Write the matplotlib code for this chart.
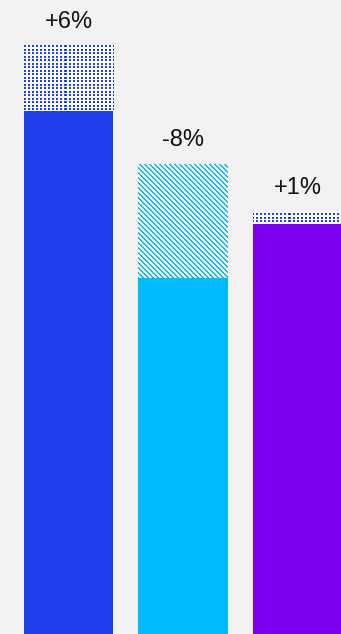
import numpy as np
import matplotlib.pyplot as plt
from matplotlib.colors import to_rgba

# valores (altura em unidades do eixo)
atual = [523, 356, 410]
projetado = [589, 470, 422]
variacao = ['+6%', '-8%', '+1%']
cores = ['#1f3fea', '#00bafb', '#7b00f0']
cores_padrao = ['#1f3fea', '#00bafb', '#1f3fea']
padroes = ['pontos', 'diagonal', 'pontos']

plt.rcParams['font.family'] = ['Liberation Sans', 'DejaVu Sans']

W, H = 341, 634
fig = plt.figure(figsize=(W / 100, H / 100), dpi=100, facecolor='#f2f2f2')
ax = fig.add_axes([0, 0, 1, 1])
ax.set_facecolor('#f2f2f2')

xlim = (-0.598, 2.38)
ylim = (0, 634)


# textura em pixels para a parte projetada
def textura(tipo, cor):
    r, c = np.mgrid[0:H, 0:W]
    if tipo == 'pontos':
        mask = (c % 4 < 2) & (r % 7 % 3 < 2) & (r % 7 != 6)
    else:
        mask = (c - r) % 5 < 2
    img = np.ones((H, W, 4))
    img[mask] = to_rgba(cor)
    return img


x = range(len(atual))
largura = 0.78

# parte projetada (textura), entre o valor atual e o projetado
for i in x:
    barra = ax.bar(i, projetado[i] - atual[i], bottom=atual[i], width=largura,
                   color='white', linewidth=0)[0]
    im = ax.imshow(textura(padroes[i], cores_padrao[i]), extent=(*xlim, *ylim),
                   origin='upper', aspect='auto', interpolation='nearest', zorder=1.5)
    im.set_clip_path(barra)

# parte atual (sólida)
ax.bar(x, atual, width=largura, color=cores, linewidth=0, zorder=2)

for i in x:
    ax.text(i, projetado[i] + 17.5, variacao[i], ha='center', va='baseline',
            fontsize=17, color='#111111')

ax.set_xlim(*xlim)
ax.set_ylim(*ylim)
ax.axis('off')

fig.savefig('out.png', dpi=100, facecolor=fig.get_facecolor())
